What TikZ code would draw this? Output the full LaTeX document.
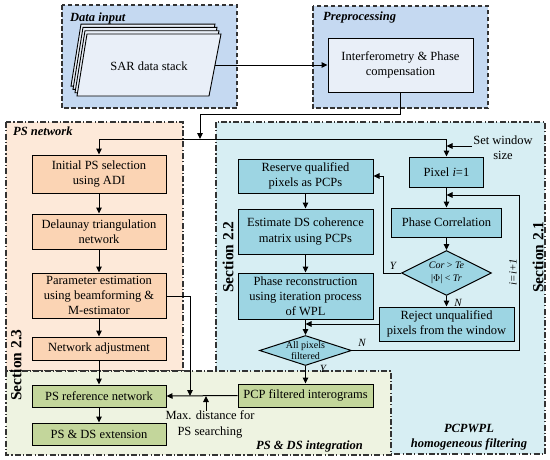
\documentclass[tikz,border=0pt]{standalone}
\usepackage{fontspec}
\setmainfont{Liberation Serif}
\usetikzlibrary{arrows.meta,shapes.geometric}
\definecolor{bluepanel}{HTML}{C5D9F1}
\definecolor{lightbox}{HTML}{E9EFF8}
\definecolor{orangepanel}{HTML}{FDE9D9}
\definecolor{orangebox}{HTML}{FBD4B4}
\definecolor{cyanpanel}{HTML}{D7EEF3}
\definecolor{cyanbox}{HTML}{9DD5E3}
\definecolor{greenpanel}{HTML}{EEF3E1}
\definecolor{greenbox}{HTML}{C3D69B}
\definecolor{bordergray}{HTML}{333333}
\tikzset{
  dpanel/.style={draw=bordergray,line width=1.1pt,dash pattern=on 4.5pt off 2.5pt},
  ddpanel/.style={draw=bordergray,line width=1.1pt,dash pattern=on 6pt off 2.2pt on 1.2pt off 2.2pt},
  boxbase/.style={draw,line width=1pt,align=center,inner sep=0pt,
    font=\fontsize{12.5}{15.5}\selectfont},
  obox/.style={boxbase,fill=orangebox,minimum width=134pt},
  gbox/.style={boxbase,fill=greenbox},
  cbox/.style={boxbase,fill=cyanbox},
  arr/.style={line width=1pt,-{Triangle[length=6pt,width=5.5pt]}},
  conn/.style={line width=1pt},
  plabel/.style={font=\fontsize{12.5}{15}\selectfont\bfseries\itshape,inner sep=0pt},
  seclabel/.style={font=\fontsize{15.5}{18}\selectfont\bfseries,rotate=90,inner sep=0pt},
  txt/.style={font=\fontsize{12.5}{15.5}\selectfont,align=center,inner sep=0pt},
  small/.style={font=\fontsize{10}{12}\selectfont,align=center,inner sep=0pt},
  diam/.style={diamond,draw,line width=1pt,fill=cyanbox,inner sep=0pt},
}
\begin{document}
\begin{tikzpicture}[x=1pt,y=-1pt]
\useasboundingbox (0,0) rectangle (550,459);
% panels
\fill[bluepanel] (62,5) rectangle (237,108);
\draw[dpanel] (62,5) rectangle (237,108);
\fill[bluepanel] (313,6) rectangle (488,108);
\draw[dpanel] (313,6) rectangle (488,108);
\fill[cyanpanel] (216,122) rectangle (545,454);
\draw[ddpanel] (216,122) rectangle (545,454);
\fill[orangepanel] (6,122) rectangle (183,371);
\draw[ddpanel] (6,122) rectangle (183,371);
\fill[greenpanel] (6,371) rectangle (391,455);
\draw[ddpanel] (6,371) rectangle (391,455);
% panel labels
\node[plabel,anchor=west] (lbldata) at (70,18) {Data input};
\node[plabel,anchor=west] (lblpre) at (323,17) {Preprocessing};
\node[plabel,anchor=west] (lblps) at (13,131) {PS network};
\node[plabel,anchor=east] (lblint) at (363,446) {PS \& DS integration};
\node[plabel,align=center] (lblpcp) at (469,437) {PCPWPL\\homogeneous filtering};
\node[seclabel] (sec22) at (228,257) {Section 2.2};
\node[seclabel] (sec21) at (538,257) {Section 2.1};
\node[seclabel] (sec23) at (16,365) {Section 2.3};
% SAR stack
\foreach \k in {3,2,1,0}{
  \draw[line width=0.9pt,fill=lightbox,shift={(-2*\k,-3.3*\k)}]
    (87,34) -- (221,34) -- (209,96) -- (77,96) -- cycle;
}
\node[txt] (sar) at (149,66) {SAR data stack};
\coordinate (sarR) at (215,65);
% preprocessing
\node[boxbase,fill=lightbox,minimum width=145pt,minimum height=54pt] (interf) at (400.5,65) {Interferometry \& Phase\\compensation};
\draw[arr] (sarR) -- (interf.west |- sarR);
\coordinate (bend1) at (200,114);
\coordinate (j1) at (200,139);
\draw[arr] (interf.south) |- (bend1) -- (j1);
% PS network boxes
\node[obox,minimum height=38pt] (initps) at (99,174) {Initial PS selection\\using ADI};
\node[obox,minimum height=35pt] (delaunay) at (99,231.5) {Delaunay triangulation\\network};
\node[obox,minimum height=45pt,font=\fontsize{12.5}{15}\selectfont] (param) at (99,295.5) {Parameter estimation\\using beamforming \&\\M-estimator};
\node[obox,minimum height=23pt] (netadj) at (99,348.5) {Network adjustment};
% green boxes
\node[gbox,minimum width=134pt,minimum height=22pt] (psref) at (99,396) {PS reference network};
\node[gbox,minimum width=134pt,minimum height=22pt] (psds) at (99,434) {PS \& DS extension};
\node[gbox,minimum width=135pt,minimum height=23pt] (pcpf) at (305.5,395.5) {PCP filtered interograms};
% cyan boxes
\node[cbox,minimum width=135pt,minimum height=34pt] (reserve) at (305.5,176) {Reserve qualified\\pixels as PCPs};
\node[cbox,minimum width=135pt,minimum height=45pt] (estimate) at (305.5,231.5) {Estimate DS coherence\\matrix using PCPs};
\node[cbox,minimum width=135pt,minimum height=46pt,font=\fontsize{12.5}{15}\selectfont] (phaserec) at (305.5,296) {Phase reconstruction\\using iteration process\\of WPL};
\node[cbox,minimum width=74pt,minimum height=30pt] (pixel) at (446.5,172) {Pixel \textit{i}=1};
\node[cbox,minimum width=110pt,minimum height=29pt] (phasecorr) at (446.5,222.5) {Phase Correlation};
\node[cbox,minimum width=135pt,minimum height=34pt] (reject) at (446.5,324) {Reject unqualified\\pixels from the window};
\node[diam,minimum width=90pt,minimum height=45pt] (cond) at (446.5,273) {};
\node[small,font=\fontsize{10}{13}\selectfont\itshape] (condtxt) at (446.5,273) {Cor \textup{>} Te\\\textup{|$\Phi$|} \textup{<} Tr};
\node[diam,minimum width=92pt,minimum height=30pt] (allpix) at (305.5,350.5) {};
\node[small,font=\fontsize{10}{11.5}\selectfont] (alltxt) at (305.5,350.5) {All pixels\\filtered};
% top distribution
\draw[arr] (j1) -| (initps.north);
\draw[arr] (j1) -| (pixel.north);
\node[txt] (setw) at (503,147.5) {Set window\\size};
\coordinate (sw) at (472,146);
\draw[arr] (sw) -- (pixel.north |- sw);
% PS network arrows
\draw[arr] (initps) -- (delaunay);
\draw[arr] (delaunay) -- (param);
\draw[arr] (param) -- (netadj);
\draw[arr] (netadj) -- (psref);
\draw[arr] (psref) -- (psds);
\coordinate (c190) at (190,396);
\draw[arr] (param.east |- 0,296) -| (c190);
\draw[arr] (pcpf.west) -- (psref.east);
\coordinate (md) at (206,411);
\draw[arr] (md) -- (md |- psref.east);
\node[txt] (maxd) at (210,424.5) {Max. distance for\\PS searching};
% PCPWPL arrows
\draw[arr] (pixel) -- (phasecorr);
\draw[arr] (phasecorr) -- (cond.north);
\draw[arr] (cond.south) -- (reject.north);
\coordinate (ycor) at (383,176);
\draw[arr] (cond.west) -| (ycor) -- (reserve.east);
\draw[arr] (reserve) -- (estimate);
\draw[arr] (estimate) -- (phaserec);
\draw[arr] (phaserec) -- (allpix.north);
\draw[arr] (reject.west) -- (reject.west -| allpix.north);
\coordinate (loopc) at (519,195);
\draw[arr] (allpix.east) -| (loopc) -- (pixel.south |- loopc);
\draw[arr] (allpix.south) -- (pcpf.north);
% small labels
\node[small,font=\fontsize{11}{13}\selectfont\itshape] (ylab1) at (393,266) {Y};
\node[small,font=\fontsize{11}{13}\selectfont\itshape] (nlab1) at (458,303) {N};
\node[small,font=\fontsize{11}{13}\selectfont\itshape] (nlab2) at (362,343) {N};
\node[small,font=\fontsize{11}{13}\selectfont\itshape] (ylab2) at (323,368.5) {Y};
\node[small,font=\fontsize{11}{13}\selectfont\itshape,rotate=90] (inc) at (513,272) {i=i+1};
\end{tikzpicture}
\end{document}
